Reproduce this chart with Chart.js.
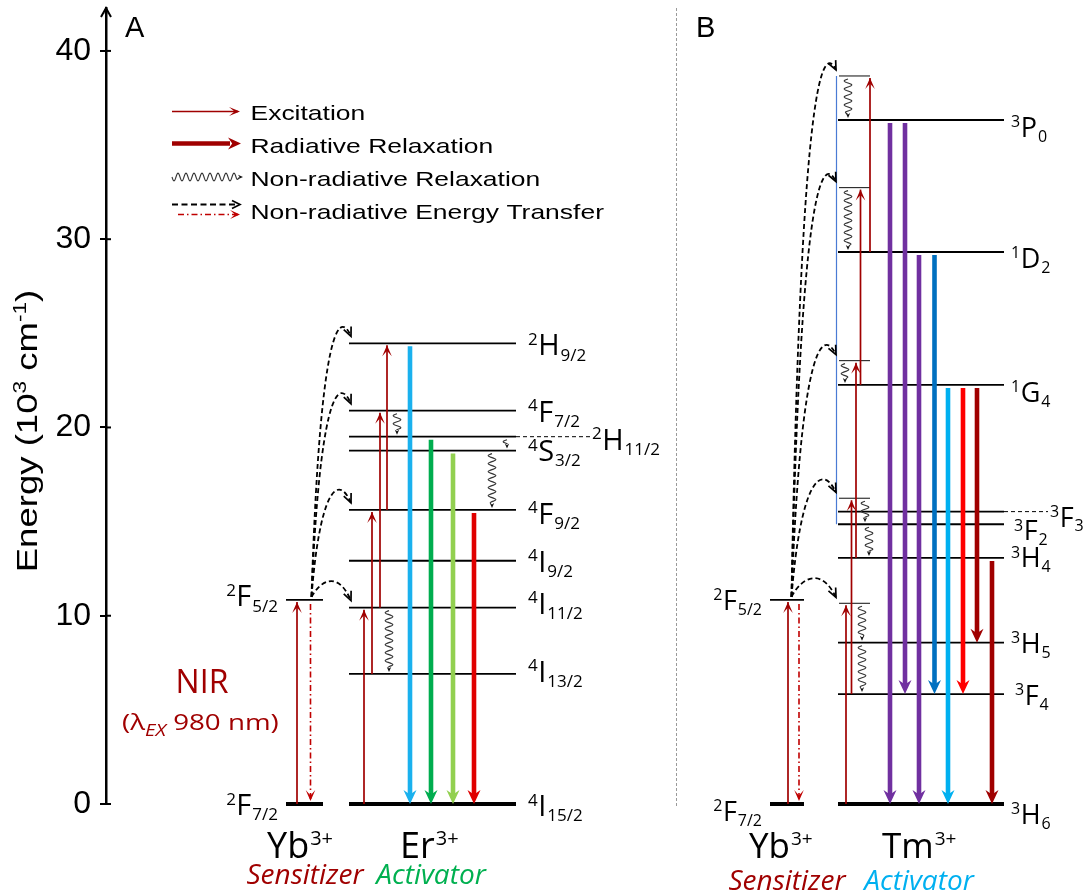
<!DOCTYPE html>
<html>
<head>
<meta charset="utf-8">
<script src="https://cdn.jsdelivr.net/npm/chart.js@4"></script>
<style>
  html, body { margin: 0; padding: 0; background: #fff; }
</style>
</head>
<body>
<canvas id="chart" width="1086" height="894"></canvas>
<script>
// Energy levels (10^3 cm^-1)
const ybNames = ['2F7/2', '2F5/2'];
const ybEnergy = [0, 10.84];

const erNames = ['4I15/2', '4I13/2', '4I11/2', '4I9/2', '4F9/2', '4S3/2', '2H11/2', '4F7/2', '2H9/2'];
const erEnergy = [0, 6.91, 10.43, 12.92, 15.62, 18.77, 19.51, 20.89, 24.47];

const tmNames = ['3H6', '3F4', '3H5', '3H4', '3F2', '3F3', '1G4', '1D2', '3P0'];
const tmEnergy = [0, 5.84, 8.57, 13.07, 14.86, 15.53, 22.26, 29.32, 36.33];
// intermediate levels reached by successive Yb -> Tm transfers
const tmVirtualNames = ['V1', 'V2', 'V3', 'V4', 'V5'];
const tmVirtualEnergy = [10.66, 16.24, 23.55, 32.74, 38.67];

// Panel A transitions
const erPumpFrom = ['2F7/2', '4I15/2', '4I13/2', '4I11/2', '4F9/2'];
const erPumpTo = ['2F5/2', '4I11/2', '4F9/2', '4F7/2', '2H9/2'];
const erEmitFrom = ['2H9/2', '2H11/2', '4S3/2', '4F9/2'];
const erEmitTo = ['4I15/2', '4I15/2', '4I15/2', '4I15/2'];
const erRelaxFrom = ['4I11/2', '4F7/2', '2H11/2', '4S3/2'];
const erRelaxTo = ['4I13/2', '2H11/2', '4S3/2', '4F9/2'];
const erTransferTo = ['4I11/2', '4F9/2', '4F7/2', '2H9/2'];

// Panel B transitions
const tmPumpFrom = ['2F7/2', '3H6', '3F4', '3H4', '1G4', '1D2'];
const tmPumpTo = ['2F5/2', 'V1', 'V2', 'V3', 'V4', 'V5'];
const tmEmitFrom = ['3P0', '3P0', '1D2', '1D2', '1G4', '1G4', '1G4', '3H4'];
const tmEmitTo = ['3H6', '3F4', '3H6', '3F4', '3H6', '3F4', '3H5', '3H6'];
const tmRelaxFrom = ['V5', 'V4', 'V3', 'V2', '3F2', 'V1', '3H5'];
const tmRelaxTo = ['3P0', '1D2', '1G4', '3F2', '3H4', '3H5', '3F4'];
const tmTransferTo = ['V1', 'V2', 'V3', 'V4', 'V5'];

const yTicks = [0, 10, 20, 30, 40];

const legendLabels = ['Excitation', 'Radiative Relaxation', 'Non-radiative Relaxation', 'Non-radiative Energy Transfer'];

// ---- layout (x positions in axis units = canvas px) and styles ----
const ybSpanA = [286, 323], erSpan = [349, 516];
const ybSpanB = [770, 804], tmSpan = [838, 1004], virtSpan = [839, 870];
const erPumpX = [297, 364, 372, 380, 387];
const erEmitX = [410, 431, 453, 474];
const erEmitColor = ['#1ab1ee', '#00ad4f', '#92d050', '#e00000'];
const erRelaxX = [389, 397, 507, 492];
const tmPumpX = [788, 846, 851.5, 856, 860.5, 870];
const tmEmitX = [890, 905, 919, 934.5, 948, 963, 977, 992];
const tmEmitColor = ['#7030a0', '#7030a0', '#7030a0', '#0070c0', '#00b0f0', '#ff0000', '#a00000', '#a00000'];
const tmRelaxX = [848, 848, 845, 865, 869, 862, 862];
const backX = { A: 310.5, B: 799 };
const transferStartX = { A: 311.5, B: 791.5 };
const transferEndX = { A: 351, B: 836 };

const labelA = { '4I15/2': 12, '4I13/2': 8, '4I11/2': 6, '4I9/2': 11, '4F9/2': 14, '4S3/2': 10.5, '2H11/2': 13, '4F7/2': 11, '2H9/2': 12 };
const labelB = { '3H6': 20, '3F4': 11, '3H5': 10.5, '3H4': 9.5, '3F2': 16, '3F3': 15, '1G4': 17, '1D2': 16, '3P0': 17 };
const labelBx = { '3F2': 1014, '3F4': 1015, '3F3': 1050 };

const DARK_RED = '#a00000';
const TERM_FONT = '"Open Sans", "Noto Sans", sans-serif';
const AXIS_FONT = '"Liberation Sans", Arial, sans-serif';
const WIDE = 1.26; // the legend / title lettering is drawn wide in the original

const levelsA = {}, levelsB = {};
ybNames.forEach((n, i) => { levelsA[n] = ybEnergy[i]; levelsB[n] = ybEnergy[i]; });
erNames.forEach((n, i) => { levelsA[n] = erEnergy[i]; });
tmNames.forEach((n, i) => { levelsB[n] = tmEnergy[i]; });
tmVirtualNames.forEach((n, i) => { levelsB[n] = tmVirtualEnergy[i]; });

function seg(x0, x1, e0, e1) {
  return [{ x: x0, y: e0 }, { x: x1, y: e1 }];
}

const datasets = [];
function addLine(points, style) {
  datasets.push(Object.assign({
    data: points, pointRadius: 0, pointHoverRadius: 0, fill: false,
    clip: false, tension: 0, borderCapStyle: 'butt', order: 0
  }, style));
}

const pumpStyle = { borderColor: DARK_RED, borderWidth: 1.7, head: 'open', gap0: 0, gap1: 2 };
const backStyle = { borderColor: '#c00000', borderWidth: 1.6, borderDash: [6, 3, 1.5, 3], head: 'open', gap0: 4, gap1: 3 };

// arrows (drawn on top of the levels)
erPumpFrom.forEach((f, i) => addLine(seg(erPumpX[i], erPumpX[i], levelsA[f], levelsA[erPumpTo[i]]), pumpStyle));
erEmitFrom.forEach((f, i) => addLine(seg(erEmitX[i], erEmitX[i], levelsA[f], levelsA[erEmitTo[i]]),
  { borderColor: erEmitColor[i], borderWidth: 4.6, head: 'filled', gap0: 3, gap1: 0 }));
addLine(seg(backX.A, backX.A, levelsA['2F5/2'], levelsA['2F7/2']), backStyle);

tmPumpFrom.forEach((f, i) => addLine(seg(tmPumpX[i], tmPumpX[i], levelsB[f], levelsB[tmPumpTo[i]]), pumpStyle));
tmEmitFrom.forEach((f, i) => addLine(seg(tmEmitX[i], tmEmitX[i], levelsB[f], levelsB[tmEmitTo[i]]),
  { borderColor: tmEmitColor[i], borderWidth: 4.6, head: 'filled', gap0: 3, gap1: 0 }));
addLine(seg(backX.B, backX.B, levelsB['2F5/2'], levelsB['2F7/2']), backStyle);

// levels
function addLevel(span, e, width, color, dash) {
  addLine(seg(span[0], span[1], e, e), { borderColor: color || '#000', borderWidth: width, borderDash: dash || [], order: 1 });
}
ybEnergy.forEach((e, i) => { addLevel(ybSpanA, e, i === 0 ? 4 : 1.8); addLevel(ybSpanB, e, i === 0 ? 4 : 1.8); });
erEnergy.forEach((e, i) => addLevel(erSpan, e, i === 0 ? 4 : 1.8));
tmEnergy.forEach((e, i) => addLevel(tmSpan, e, i === 0 ? 4 : 1.8));
tmVirtualEnergy.forEach(e => addLevel(virtSpan, e, 1.1, '#222'));
addLevel([erSpan[1], 591], levelsA['2H11/2'], 1, '#000', [4, 3]);
addLevel([tmSpan[1], 1048], levelsB['3F3'], 1, '#000', [4, 3]);
addLine(seg(836.5, 836.5, levelsB['V5'], levelsB['3F2']), { borderColor: '#4a7bd4', borderWidth: 1.2, order: 1 });

// ---- drawing helpers ----
function head(ctx, tip, dx, dy, len, hw, kind, color, lw) {
  const m = Math.hypot(dx, dy); const ux = dx / m, uy = dy / m;
  const px = -uy, py = ux;
  const bx = tip.x - ux * len, by = tip.y - uy * len;
  ctx.save();
  ctx.setLineDash([]);
  ctx.fillStyle = color; ctx.strokeStyle = color;
  if (kind === 'filled' || kind === 'notch') {
    const notch = kind === 'filled' ? 0.68 : 0.5;
    ctx.beginPath();
    ctx.moveTo(tip.x, tip.y);
    ctx.lineTo(bx + px * hw, by + py * hw);
    ctx.lineTo(tip.x - ux * len * notch, tip.y - uy * len * notch);
    ctx.lineTo(bx - px * hw, by - py * hw);
    ctx.closePath();
    ctx.fill();
  } else {
    ctx.lineWidth = lw || 1.6;
    ctx.beginPath();
    ctx.moveTo(bx + px * hw, by + py * hw);
    ctx.lineTo(tip.x, tip.y);
    ctx.lineTo(bx - px * hw, by - py * hw);
    ctx.stroke();
  }
  ctx.restore();
}

function wavy(ctx, x0, y0, x1, y1, amp, wl) {
  const L = Math.hypot(x1 - x0, y1 - y0);
  const ux = (x1 - x0) / L, uy = (y1 - y0) / L;
  const px = -uy, py = ux;
  const run = Math.max(L - 4, 2);
  ctx.save();
  ctx.strokeStyle = '#333'; ctx.lineWidth = 1.1; ctx.setLineDash([]);
  ctx.beginPath();
  for (let s = 0; s <= run; s += 0.5) {
    const o = amp * Math.sin(2 * Math.PI * s / wl) * Math.min(1, (run - s) / 3 + 0.2);
    const X = x0 + ux * s + px * o, Y = y0 + uy * s + py * o;
    if (s === 0) ctx.moveTo(X, Y); else ctx.lineTo(X, Y);
  }
  ctx.stroke();
  ctx.restore();
  head(ctx, { x: x1, y: y1 }, ux, uy, 5, 2.2, 'filled', '#111');
}

function transferCurve(ctx, S, T) {
  const dx = T.x - S.x, pk = T.y - 20;
  const P1 = { x: S.x + 0.2 * dx, y: pk + 0.1 * (S.y - pk) };
  const P2 = { x: T.x - 0.35 * dx, y: pk - 12 };
  ctx.save();
  ctx.strokeStyle = '#000'; ctx.lineWidth = 1.8; ctx.setLineDash([5, 3]);
  ctx.beginPath();
  ctx.moveTo(S.x, S.y);
  ctx.bezierCurveTo(P1.x, P1.y, P2.x, P2.y, T.x, T.y);
  ctx.stroke();
  ctx.restore();
  head(ctx, T, T.x - P2.x, T.y - P2.y, 9, 4, 'open', '#000', 1.7);
}

function drawTerm(ctx, x, base, name, size, align) {
  const sup = name[0], main = name[1], sub = name.slice(2);
  const small = Math.round(size * 0.6);
  ctx.font = small + 'px ' + TERM_FONT; const w1 = ctx.measureText(sup).width; const w3 = ctx.measureText(sub).width;
  ctx.font = size + 'px ' + TERM_FONT; const w2 = ctx.measureText(main).width;
  const x0 = align === 'right' ? x - (w1 + w2 + w3 + 1.5) : x;
  ctx.textAlign = 'left'; ctx.textBaseline = 'alphabetic'; ctx.fillStyle = '#000';
  ctx.font = small + 'px ' + TERM_FONT; ctx.fillText(sup, x0, base - size * 0.36);
  ctx.font = size + 'px ' + TERM_FONT; ctx.fillText(main, x0 + w1 + 0.5, base);
  ctx.font = small + 'px ' + TERM_FONT; ctx.fillText(sub, x0 + w1 + w2 + 1.5, base + size * 0.18);
}

function ionLabel(ctx, x, base, ion, size) {
  ctx.textAlign = 'left'; ctx.textBaseline = 'alphabetic'; ctx.fillStyle = '#000';
  ctx.font = size + 'px ' + TERM_FONT; ctx.fillText(ion, x, base);
  const w = ctx.measureText(ion).width;
  ctx.font = Math.round(size * 0.55) + 'px ' + TERM_FONT; ctx.fillText('3+', x + w + 1, base - size * 0.36);
}

function italicCentered(ctx, text, cx, base, size, color) {
  ctx.textAlign = 'center'; ctx.textBaseline = 'alphabetic'; ctx.fillStyle = color;
  ctx.font = 'italic ' + size + 'px ' + TERM_FONT; ctx.fillText(text, cx, base);
}

// text runs [text, size, raise, italic] laid out left to right, stretched by sx
function runs(ctx, parts, family, x, base, sx, align) {
  let tw = 0;
  parts.forEach(p => { ctx.font = (p[3] ? 'italic ' : '') + p[1] + 'px ' + family; tw += ctx.measureText(p[0]).width; });
  ctx.save();
  ctx.translate(x, base); ctx.scale(sx, 1);
  let cx = align === 'center' ? -tw / 2 : 0;
  ctx.textAlign = 'left'; ctx.textBaseline = 'alphabetic';
  parts.forEach(p => { ctx.font = (p[3] ? 'italic ' : '') + p[1] + 'px ' + family; ctx.fillText(p[0], cx, p[2]); cx += ctx.measureText(p[0]).width; });
  ctx.restore();
}

const tipStore = new Map();

const diagram = {
  id: 'diagram',
  afterDatasetsUpdate(chart) {
    chart.data.datasets.forEach((ds, i) => {
      if (!ds.head) return;
      const pts = chart.getDatasetMeta(i).data;
      const a = pts[0], b = pts[1];
      const dir = b.y > a.y ? 1 : -1;
      a.y += dir * (ds.gap0 || 0);
      b.y -= dir * (ds.gap1 || 0);
      tipStore.set(i, { x: b.x, y: b.y, dir });
      if (ds.head === 'filled') b.y -= dir * 8;
    });
  },
  afterDatasetsDraw(chart) {
    const ctx = chart.ctx;
    chart.data.datasets.forEach((ds, i) => {
      if (!ds.head) return;
      const t = tipStore.get(i);
      if (ds.head === 'filled') head(ctx, t, 0, t.dir, 14, 6.5, 'filled', ds.borderColor);
      else head(ctx, t, 0, t.dir, 11, 4.8, 'notch', ds.borderColor);
    });
  },
  afterDraw(chart) {
    const ctx = chart.ctx;
    const X = v => chart.scales.x.getPixelForValue(v);
    const Y = v => chart.scales.y.getPixelForValue(v);
    const ca = chart.chartArea;

    // axis arrow + ticks through the axis
    ctx.save();
    ctx.strokeStyle = '#000'; ctx.lineWidth = 2.5;
    ctx.beginPath(); ctx.moveTo(ca.left, ca.top + 1); ctx.lineTo(ca.left, ca.top + 6); ctx.stroke();
    head(ctx, { x: ca.left, y: ca.top }, 0, -1, 9, 5, 'open', '#000', 2);
    ctx.lineWidth = 2;
    yTicks.forEach(v => { ctx.beginPath(); ctx.moveTo(ca.left, Y(v)); ctx.lineTo(ca.left + 5, Y(v)); ctx.stroke(); });
    ctx.restore();

    // axis title
    ctx.save();
    ctx.translate(37, 431); ctx.rotate(-Math.PI / 2);
    ctx.fillStyle = '#000';
    runs(ctx, [['Energy (10', 29, 0], ['3', 18, -11], [' cm', 29, 0], ['-1', 18, -11], [')', 29, 0]], AXIS_FONT, 0, 0, WIDE, 'center');
    ctx.restore();

    // panel letters and separator
    ctx.save();
    ctx.fillStyle = '#000'; ctx.font = '29px ' + AXIS_FONT; ctx.textAlign = 'left'; ctx.textBaseline = 'alphabetic';
    ctx.fillText('A', 125, 37); ctx.fillText('B', 696, 37);
    ctx.strokeStyle = '#9a9a9a'; ctx.lineWidth = 1; ctx.setLineDash([3, 2]);
    ctx.beginPath(); ctx.moveTo(676.5, ca.top); ctx.lineTo(676.5, Y(0) + 2); ctx.stroke();
    ctx.restore();

    // non-radiative relaxation (wavy)
    erRelaxFrom.forEach((f, i) => wavy(ctx, X(erRelaxX[i]), Y(levelsA[f]) + 3, X(erRelaxX[i]), Y(levelsA[erRelaxTo[i]]) - 2, 3.8, 8));
    tmRelaxFrom.forEach((f, i) => wavy(ctx, X(tmRelaxX[i]), Y(levelsB[f]) + 3, X(tmRelaxX[i]), Y(levelsB[tmRelaxTo[i]]) - 2, 3.8, 8));

    // Yb -> activator energy transfer
    erTransferTo.forEach(n => transferCurve(ctx,
      { x: X(transferStartX.A), y: Y(levelsA['2F5/2']) - 3 },
      { x: X(transferEndX.A), y: Y(levelsA[n]) - 7 }));
    tmTransferTo.forEach(n => transferCurve(ctx,
      { x: X(transferStartX.B), y: Y(levelsB['2F5/2']) - 3 },
      { x: X(transferEndX.B), y: Y(levelsB[n]) - 6 }));

    // level labels
    erNames.forEach(n => drawTerm(ctx, n === '2H11/2' ? 592 : 528, Y(levelsA[n]) + labelA[n], n, 29));
    drawTerm(ctx, 278, Y(levelsA['2F5/2']) + 6.5, '2F5/2', 29, 'right');
    drawTerm(ctx, 278, Y(levelsA['2F7/2']) + 11, '2F7/2', 29, 'right');
    tmNames.forEach(n => drawTerm(ctx, labelBx[n] || 1011, Y(levelsB[n]) + labelB[n], n, 27));
    drawTerm(ctx, 762, Y(levelsB['2F5/2']) + 10, '2F5/2', 27, 'right');
    drawTerm(ctx, 762, Y(levelsB['2F7/2']) + 17, '2F7/2', 27, 'right');

    // ion names
    ionLabel(ctx, 267, 858, 'Yb', 36);
    ionLabel(ctx, 400, 858, 'Er', 36);
    italicCentered(ctx, 'Sensitizer', 305, 884, 28, DARK_RED);
    italicCentered(ctx, 'Activator', 431, 884, 28, '#00b050');
    ionLabel(ctx, 749, 858, 'Yb', 35);
    ionLabel(ctx, 882, 858, 'Tm', 35);
    italicCentered(ctx, 'Sensitizer', 787, 890, 28, DARK_RED);
    italicCentered(ctx, 'Activator', 919, 890, 28, '#00b0f0');

    // NIR excitation note
    ctx.save();
    ctx.fillStyle = DARK_RED;
    ctx.font = '32px ' + TERM_FONT; ctx.textAlign = 'center'; ctx.textBaseline = 'alphabetic';
    ctx.fillText('NIR', 202, 693);
    runs(ctx, [['(\u03bb', 22, 0], ['EX', 16, 6, true], [' 980 nm)', 22, 0]], TERM_FONT, 122, 730, WIDE, 'left');
    ctx.restore();

    // legend
    const ly = [111.5, 143.5, 177, 204.5];
    ctx.save();
    ctx.strokeStyle = DARK_RED; ctx.lineWidth = 1.6;
    ctx.beginPath(); ctx.moveTo(172, ly[0]); ctx.lineTo(238, ly[0]); ctx.stroke();
    head(ctx, { x: 240, y: ly[0] }, 1, 0, 11, 4.5, 'notch', DARK_RED);
    ctx.lineWidth = 4.5;
    ctx.beginPath(); ctx.moveTo(172, ly[1]); ctx.lineTo(230, ly[1]); ctx.stroke();
    head(ctx, { x: 241, y: ly[1] }, 1, 0, 13, 6, 'filled', DARK_RED);
    ctx.restore();
    wavy(ctx, 172, ly[2], 243, ly[2], 3.8, 8);
    ctx.save();
    ctx.strokeStyle = '#000'; ctx.lineWidth = 1.8; ctx.setLineDash([6, 3.5]);
    ctx.beginPath(); ctx.moveTo(172, ly[3]); ctx.lineTo(238, ly[3]); ctx.stroke();
    head(ctx, { x: 240, y: ly[3] }, 1, 0, 8, 4, 'open', '#000', 1.7);
    ctx.strokeStyle = '#c00000'; ctx.lineWidth = 1.6; ctx.setLineDash([6, 3, 1.5, 3]);
    ctx.beginPath(); ctx.moveTo(178, ly[3] + 10); ctx.lineTo(238, ly[3] + 10); ctx.stroke();
    head(ctx, { x: 240, y: ly[3] + 10 }, 1, 0, 10, 4.5, 'notch', '#c00000');
    ctx.fillStyle = '#000';
    const lb = [120, 152.5, 186, 218.5];
    legendLabels.forEach((t, i) => runs(ctx, [[t, 21, 0]], AXIS_FONT, 250.5, lb[i], WIDE, 'left'));
    ctx.restore();
  }
};

new Chart(document.getElementById('chart'), {
  type: 'line',
  data: { datasets },
  options: {
    responsive: false,
    animation: false,
    events: [],
    layout: { padding: { top: 8, bottom: 90, left: 0, right: 0 } },
    plugins: { legend: { display: false }, tooltip: { enabled: false } },
    scales: {
      x: { type: 'linear', min: 106, max: 1086, display: false },
      y: {
        type: 'linear', min: 0, max: 42.28,
        afterFit: s => { s.width = 106; s.paddingTop = 0; s.paddingBottom = 0; },
        border: { display: true, color: '#000', width: 2.5 },
        grid: { drawOnChartArea: false, drawTicks: true, tickLength: 6, color: '#000', lineWidth: 2 },
        ticks: {
          stepSize: 10, includeBounds: false, padding: 9, color: '#000',
          font: { family: AXIS_FONT, size: 32 }
        }
      }
    }
  },
  plugins: [diagram]
});
</script>
</body>
</html>
